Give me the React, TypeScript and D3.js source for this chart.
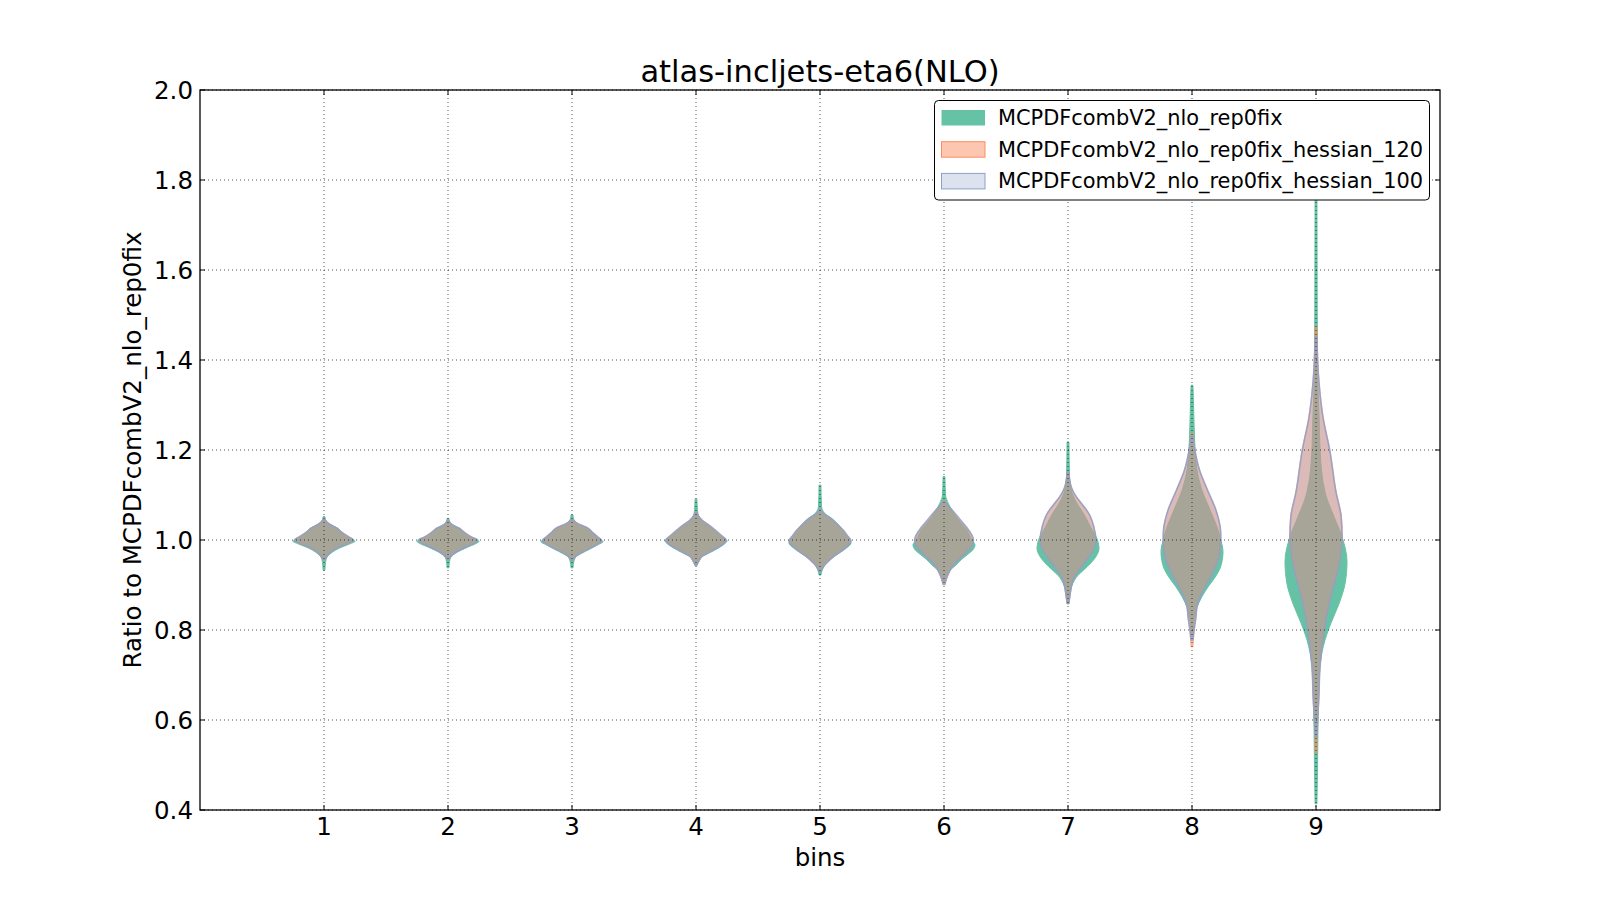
import React from "react";
import * as d3 from "d3";

const title = "atlas-incljets-eta6(NLO)";
const xLabel = "bins";
const yLabel = "Ratio to MCPDFcombV2_nlo_rep0fix";
const binCenters = [1, 2, 3, 4, 5, 6, 7, 8, 9];
const yTicks = [0.4, 0.6, 0.8, 1.0, 1.2, 1.4, 1.6, 1.8, 2.0];
const seriesNames = [
  "MCPDFcombV2_nlo_rep0fix",
  "MCPDFcombV2_nlo_rep0fix_hessian_120",
  "MCPDFcombV2_nlo_rep0fix_hessian_100",
];
const seriesColors = ["#66c2a5", "#fc8d62", "#8da0cb"];

// Violin profiles: [ratio value, relative half-width (1 = full violin half-width)]
const greenProfiles: [number, number][][] = [
  [[0.933,0.03],[0.95,0.05],[0.962,0.1],[0.972,0.25],[0.982,0.5],[0.992,0.85],[0.997,1.0],[1.005,0.8],[1.015,0.6],[1.027,0.42],[1.035,0.2],[1.042,0.06],[1.052,0.03]],
  [[0.938,0.03],[0.952,0.05],[0.962,0.1],[0.973,0.3],[0.983,0.6],[0.992,0.9],[0.997,1.0],[1.005,0.75],[1.015,0.55],[1.026,0.38],[1.033,0.15],[1.04,0.05],[1.048,0.03]],
  [[0.938,0.03],[0.952,0.06],[0.962,0.12],[0.97,0.3],[0.98,0.58],[0.99,0.85],[0.996,1.0],[1.005,0.85],[1.015,0.68],[1.026,0.52],[1.035,0.22],[1.045,0.06],[1.056,0.03]],
  [[0.943,0.03],[0.953,0.1],[0.963,0.2],[0.972,0.45],[0.982,0.72],[0.992,0.93],[0.998,1.0],[1.008,0.82],[1.02,0.62],[1.03,0.45],[1.042,0.22],[1.052,0.1],[1.065,0.05],[1.091,0.03]],
  [[0.922,0.03],[0.935,0.08],[0.948,0.2],[0.958,0.35],[0.97,0.6],[0.982,0.85],[0.993,1.0],[1.005,0.9],[1.02,0.75],[1.035,0.58],[1.048,0.38],[1.06,0.14],[1.075,0.05],[1.122,0.03]],
  [[0.907,0.03],[0.92,0.08],[0.933,0.2],[0.945,0.4],[0.956,0.55],[0.97,0.8],[0.978,0.93],[0.989,1.0],[1.0,0.9],[1.022,0.74],[1.044,0.48],[1.067,0.25],[1.081,0.14],[1.1,0.05],[1.141,0.03]],
  [[0.858,0.03],[0.875,0.06],[0.904,0.16],[0.92,0.3],[0.933,0.5],[0.95,0.75],[0.963,0.9],[0.981,1.0],[1.0,0.95],[1.03,0.72],[1.059,0.5],[1.08,0.3],[1.096,0.18],[1.115,0.09],[1.14,0.05],[1.218,0.03]],
  [[0.785,0.03],[0.82,0.07],[0.85,0.16],[0.874,0.32],[0.896,0.52],[0.918,0.75],[0.94,0.92],[0.974,1.0],[1.0,0.93],[1.022,0.84],[1.067,0.58],[1.111,0.32],[1.156,0.16],[1.2,0.1],[1.25,0.07],[1.3,0.05],[1.344,0.03]],
  [[0.414,0.03],[0.5,0.05],[0.644,0.08],[0.719,0.13],[0.778,0.29],[0.815,0.48],[0.86,0.75],[0.904,0.94],[0.952,1.0],[1.007,0.84],[1.052,0.58],[1.104,0.3],[1.2,0.13],[1.274,0.1],[1.35,0.06],[1.5,0.04],[1.756,0.03]],
];

const orangeProfiles: [number, number][][] = [
  [[0.955,0.03],[0.965,0.1],[0.975,0.25],[0.985,0.5],[0.993,0.8],[1.0,0.95],[1.007,0.8],[1.017,0.58],[1.027,0.4],[1.035,0.18],[1.046,0.03]],
  [[0.957,0.03],[0.965,0.1],[0.975,0.3],[0.985,0.58],[0.993,0.85],[1.0,0.95],[1.007,0.75],[1.017,0.53],[1.026,0.36],[1.034,0.14],[1.043,0.03]],
  [[0.954,0.03],[0.963,0.1],[0.972,0.3],[0.982,0.58],[0.992,0.85],[0.999,0.95],[1.007,0.83],[1.017,0.66],[1.027,0.5],[1.036,0.2],[1.046,0.03]],
  [[0.945,0.03],[0.955,0.1],[0.965,0.22],[0.974,0.45],[0.984,0.72],[0.994,0.92],[1.0,0.97],[1.01,0.82],[1.022,0.62],[1.032,0.44],[1.044,0.2],[1.053,0.08],[1.062,0.03]],
  [[0.93,0.03],[0.94,0.1],[0.952,0.26],[0.962,0.42],[0.975,0.68],[0.988,0.9],[0.998,1.0],[1.01,0.88],[1.022,0.74],[1.035,0.54],[1.048,0.33],[1.058,0.12],[1.068,0.03]],
  [[0.9,0.03],[0.918,0.1],[0.93,0.18],[0.941,0.26],[0.955,0.45],[0.971,0.7],[0.99,0.92],[1.0,0.95],[1.022,0.78],[1.044,0.5],[1.067,0.22],[1.078,0.1],[1.088,0.03]],
  [[0.86,0.03],[0.88,0.07],[0.904,0.13],[0.92,0.22],[0.933,0.35],[0.95,0.54],[0.963,0.68],[0.98,0.83],[1.0,0.9],[1.03,0.83],[1.059,0.67],[1.08,0.45],[1.096,0.27],[1.115,0.12],[1.135,0.05],[1.15,0.03]],
  [[0.763,0.03],[0.8,0.07],[0.83,0.13],[0.852,0.16],[0.874,0.26],[0.896,0.42],[0.918,0.6],[0.94,0.75],[0.963,0.87],[1.004,0.93],[1.022,0.92],[1.067,0.77],[1.111,0.5],[1.156,0.24],[1.19,0.12],[1.237,0.03]],
  [[0.527,0.03],[0.6,0.05],[0.644,0.09],[0.719,0.13],[0.793,0.25],[0.867,0.45],[0.941,0.73],[1.007,0.85],[1.052,0.82],[1.104,0.66],[1.2,0.45],[1.274,0.23],[1.348,0.1],[1.42,0.05],[1.474,0.03]],
];

const blueProfiles: [number, number][][] = [
  [[0.958,0.03],[0.965,0.1],[0.975,0.25],[0.985,0.5],[0.993,0.8],[1.0,0.95],[1.007,0.8],[1.017,0.58],[1.027,0.4],[1.035,0.18],[1.045,0.03]],
  [[0.958,0.03],[0.965,0.1],[0.975,0.3],[0.985,0.58],[0.993,0.85],[1.0,0.95],[1.007,0.75],[1.017,0.53],[1.026,0.36],[1.034,0.14],[1.042,0.03]],
  [[0.955,0.03],[0.963,0.1],[0.972,0.3],[0.982,0.58],[0.992,0.85],[0.999,0.95],[1.007,0.83],[1.017,0.66],[1.027,0.5],[1.036,0.2],[1.045,0.03]],
  [[0.945,0.03],[0.955,0.1],[0.965,0.22],[0.974,0.45],[0.984,0.72],[0.994,0.92],[1.0,0.97],[1.01,0.82],[1.022,0.62],[1.032,0.44],[1.044,0.2],[1.053,0.08],[1.06,0.03]],
  [[0.93,0.03],[0.94,0.1],[0.952,0.26],[0.962,0.42],[0.975,0.68],[0.988,0.9],[0.998,1.0],[1.01,0.88],[1.022,0.75],[1.035,0.56],[1.048,0.35],[1.058,0.13],[1.067,0.03]],
  [[0.902,0.03],[0.918,0.1],[0.93,0.18],[0.941,0.26],[0.955,0.45],[0.971,0.7],[0.99,0.92],[1.0,0.95],[1.022,0.8],[1.044,0.54],[1.067,0.26],[1.078,0.12],[1.085,0.03]],
  [[0.86,0.03],[0.88,0.07],[0.904,0.13],[0.92,0.22],[0.933,0.35],[0.95,0.54],[0.963,0.68],[0.98,0.83],[1.0,0.9],[1.03,0.83],[1.059,0.67],[1.08,0.45],[1.096,0.27],[1.115,0.12],[1.135,0.05],[1.148,0.03]],
  [[0.778,0.03],[0.8,0.07],[0.83,0.13],[0.852,0.16],[0.874,0.26],[0.896,0.42],[0.918,0.6],[0.94,0.75],[0.963,0.87],[1.004,0.93],[1.022,0.92],[1.067,0.77],[1.111,0.5],[1.156,0.24],[1.19,0.12],[1.23,0.03]],
  [[0.563,0.03],[0.6,0.05],[0.644,0.09],[0.719,0.13],[0.793,0.25],[0.867,0.45],[0.941,0.73],[1.007,0.84],[1.052,0.81],[1.104,0.65],[1.2,0.44],[1.274,0.22],[1.348,0.1],[1.4,0.05],[1.45,0.03]],
];

const W = 1600;
const H = 900;
const M = { left: 200, right: 160, top: 90, bottom: 90 };
const FONT = "'DejaVu Sans', sans-serif";

export default function App() {
  const x = d3.scaleLinear().domain([0, 10]).range([M.left, W - M.right]);
  const y = d3.scaleLinear().domain([0.4, 2.0]).range([H - M.bottom, M.top]);
  const halfW = x(0.25) - x(0);

  const makePath = (profile: [number, number][], center: number) => {
    const pts = [...profile].sort((a, b) => b[0] - a[0]);
    const area = d3
      .area<[number, number]>()
      .y((d) => y(d[0]))
      .x0((d) => x(center) - d[1] * halfW)
      .x1((d) => x(center) + d[1] * halfW)
      .curve(d3.curveMonotoneY);
    return area(pts) || "";
  };

  const layers = [
    { profiles: greenProfiles, fill: seriesColors[0], fillOp: 1, stroke: seriesColors[0], strokeOp: 1, sw: 1 },
    { profiles: orangeProfiles, fill: seriesColors[1], fillOp: 0.5, stroke: seriesColors[1], strokeOp: 0.6, sw: 1.2 },
    { profiles: blueProfiles, fill: seriesColors[2], fillOp: 0.3, stroke: seriesColors[2], strokeOp: 0.85, sw: 1.5 },
  ];

  const x0 = M.left, x1 = W - M.right, y0 = M.top, y1 = H - M.bottom;
  const tickLen = 5;

  return (
    <div style={{ position: "fixed", left: 0, top: 0 }}>
      <svg width={W} height={H} style={{ display: "block", background: "#fff" }} fontFamily={FONT}>
        <rect x={0} y={0} width={W} height={H} fill="#fff" />
        {/* violins */}
        {layers.map((L, li) => (
          <g key={li}>
            {L.profiles.map((p, i) => (
              <path
                key={i}
                d={makePath(p, binCenters[i])}
                fill={L.fill}
                fillOpacity={L.fillOp}
                stroke={L.stroke}
                strokeOpacity={L.strokeOp}
                strokeWidth={L.sw}
              />
            ))}
          </g>
        ))}
        {/* grid on top */}
        <g stroke="#000" strokeWidth={0.8} strokeDasharray="1,3" opacity={0.85}>
          {binCenters.map((b) => (
            <line key={"gx" + b} x1={x(b)} x2={x(b)} y1={y0} y2={y1} />
          ))}
          {yTicks.map((t) => (
            <line key={"gy" + t} x1={x0} x2={x1} y1={y(t)} y2={y(t)} />
          ))}
        </g>
        {/* ticks */}
        <g stroke="#000" strokeWidth={1}>
          {binCenters.map((b) => (
            <g key={"tx" + b}>
              <line x1={x(b)} x2={x(b)} y1={y1} y2={y1 - tickLen} />
              <line x1={x(b)} x2={x(b)} y1={y0} y2={y0 + tickLen} />
            </g>
          ))}
          {yTicks.map((t) => (
            <g key={"ty" + t}>
              <line x1={x0} x2={x0 + tickLen} y1={y(t)} y2={y(t)} />
              <line x1={x1} x2={x1 - tickLen} y1={y(t)} y2={y(t)} />
            </g>
          ))}
        </g>
        {/* frame */}
        <rect x={x0} y={y0} width={x1 - x0} height={y1 - y0} fill="none" stroke="#000" strokeWidth={1.3} />
        {/* tick labels */}
        <g fontSize={24.5} fill="#000">
          {binCenters.map((b) => (
            <text key={"lx" + b} x={x(b)} y={y1 + 25} textAnchor="middle">
              {b}
            </text>
          ))}
          {yTicks.map((t) => (
            <text key={"ly" + t} x={x0 - 7} y={y(t) + 8.5} textAnchor="end">
              {t.toFixed(1)}
            </text>
          ))}
        </g>
        {/* axis labels & title */}
        <text x={(x0 + x1) / 2} y={866} textAnchor="middle" fontSize={24.5}>
          {xLabel}
        </text>
        <text
          transform={`translate(141, ${(y0 + y1) / 2}) rotate(-90)`}
          textAnchor="middle"
          fontSize={24.5}
        >
          {yLabel}
        </text>
        <text x={(x0 + x1) / 2} y={82} textAnchor="middle" fontSize={30.5}>
          {title}
        </text>
        {/* legend */}
        <g>
          <rect x={934.5} y={100.5} width={495} height={99.5} rx={4} fill="#fff" stroke="#000" strokeWidth={1} />
          {seriesNames.map((name, i) => {
            const ry = 110 + i * 31.7;
            const L = layers[i];
            return (
              <g key={name}>
                <rect x={941.5} y={ry} width={43.5} height={15.5} fill="#fff" />
                <rect
                  x={941.5}
                  y={ry}
                  width={43.5}
                  height={15.5}
                  fill={L.fill}
                  fillOpacity={L.fillOp}
                  stroke={L.stroke}
                  strokeOpacity={i === 0 ? 0 : 1}
                  strokeWidth={1}
                />
                <text x={998} y={ry + 15} fontSize={20.9}>
                  {name}
                </text>
              </g>
            );
          })}
        </g>
      </svg>
    </div>
  );
}
